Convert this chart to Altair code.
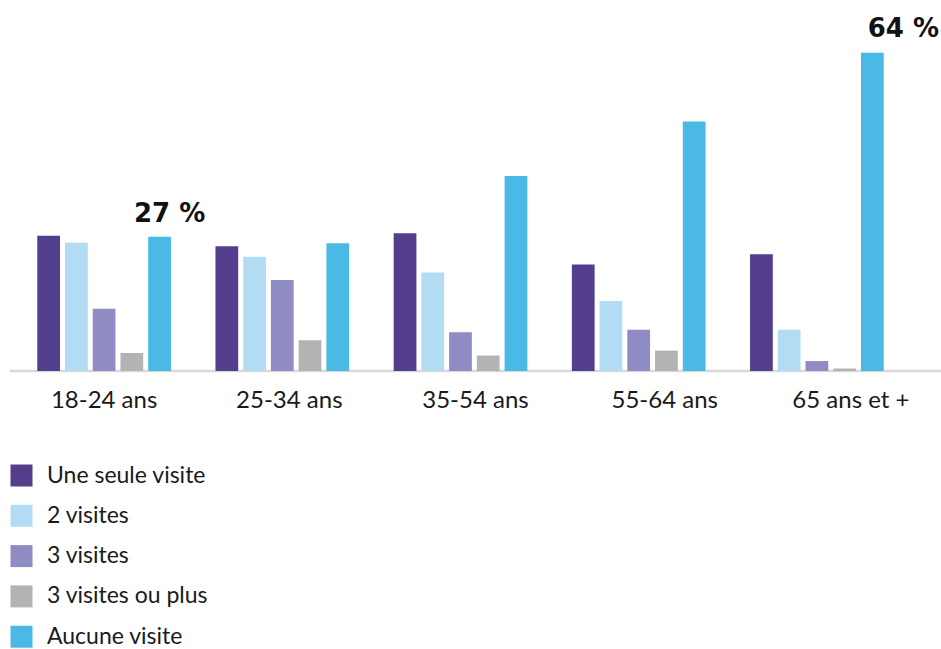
import altair as alt
import pandas as pd

groups = ["18-24 ans", "25-34 ans", "35-54 ans", "55-64 ans", "65 ans et +"]
series = ["Une seule visite", "2 visites", "3 visites", "3 visites ou plus", "Aucune visite"]
colors = ["#523e8c", "#b1dcf4", "#8f8bc3", "#b3b3b3", "#4ab9e6"]

une_seule = [27.2, 25.1, 27.7, 21.4, 23.5]
deux = [25.8, 23.0, 19.8, 14.1, 8.3]
trois = [12.5, 18.3, 7.8, 8.3, 2.0]
trois_plus = [3.6, 6.2, 3.1, 4.1, 0.5]
aucune = [27.0, 25.7, 39.2, 50.2, 64.0]

labelled_groups = ["18-24 ans", "65 ans et +"]

rows = []
for s, vals in zip(series, [une_seule, deux, trois, trois_plus, aucune]):
    for g, v in zip(groups, vals):
        rows.append({"groupe": g, "serie": s, "valeur": v})
df = pd.DataFrame(rows)

ann = df[(df["serie"] == "Aucune visite") & (df["groupe"].isin(labelled_groups))].copy()
ann["texte"] = ann["valeur"].round().astype(int).astype(str) + " %"

FONT = "Lato"

x_enc = alt.X(
    "groupe:N",
    sort=groups,
    scale=alt.Scale(paddingInner=0.25, paddingOuter=0.125),
    axis=alt.Axis(
        title=None,
        domain=False,
        ticks=False,
        labelAngle=0,
        labelFont=FONT,
        labelFontSize=24,
        labelColor="#1a1a1a",
        labelPadding=17,
        labelOffset={
            "condition": [
                {"test": "datum.value == '25-34 ans'", "value": 7},
                {"test": "datum.value == '35-54 ans'", "value": 15},
                {"test": "datum.value == '55-64 ans'", "value": 26},
                {"test": "datum.value == '65 ans et +'", "value": 34},
            ],
            "value": 0,
        },
    ),
)

y_scale = alt.Scale(domain=[0, 70])

base_line = alt.Chart(pd.DataFrame({"y": [0]})).mark_rule(
    color="#d9d9d9", strokeWidth=2.5
).encode(
    y=alt.Y("y:Q", scale=y_scale, axis=None),
    x=alt.value(-5),
    x2=alt.value(926),
)

bars = alt.Chart(df).mark_bar().encode(
    x=x_enc,
    xOffset=alt.XOffset("serie:N", sort=series, scale=alt.Scale(paddingInner=0.18, paddingOuter=0)),
    y=alt.Y("valeur:Q", scale=y_scale, axis=None),
    color=alt.Color(
        "serie:N",
        sort=series,
        scale=alt.Scale(domain=series, range=colors),
        legend=alt.Legend(
            title=None,
            orient="none",
            legendX=-5,
            legendY=441,
            symbolType="square",
            symbolSize=484,
            symbolStrokeWidth=0,
            labelFont=FONT,
            labelFontSize=23,
            labelColor="#1a1a1a",
            labelOffset=14,
            rowPadding=16.3,
            labelLimit=400,
        ),
    ),
)

def ann_layer(group, dx, dy):
    return alt.Chart(ann[ann["groupe"] == group]).mark_text(
        font="DejaVu Sans", fontWeight="bold", fontSize=26, color="#111111",
        baseline="alphabetic", align="center", dx=dx, dy=dy,
    ).encode(
        x=alt.X("groupe:N", sort=groups),
        xOffset=alt.XOffset("serie:N", sort=series),
        y=alt.Y("valeur:Q", scale=y_scale, axis=None),
        text="texte:N",
    )

chart = alt.layer(
    base_line,
    bars,
    ann_layer("18-24 ans", 10, -15),
    ann_layer("65 ans et +", 31, -16),
).resolve_scale(x="shared").properties(
    width=891,
    height=348,
    padding={"left": 15, "top": 23, "right": 35, "bottom": 278},
    autosize=alt.AutoSizeParams(type="none"),
    background="white",
).configure_view(stroke=None)

chart.save("out.html", embed_options={"renderer": "svg", "actions": False})
